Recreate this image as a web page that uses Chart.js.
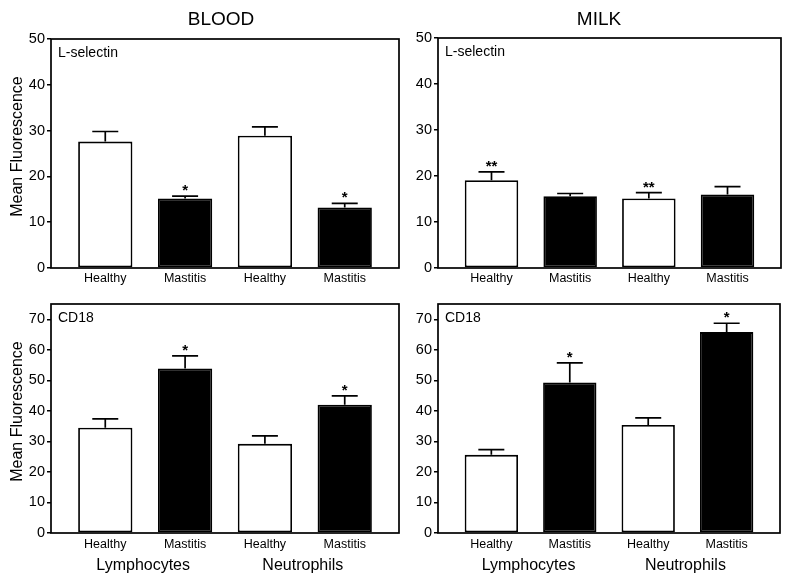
<!DOCTYPE html>
<html>
<head>
<meta charset="utf-8">
<title>L-selectin and CD18 in blood and milk</title>
<script src="https://cdn.jsdelivr.net/npm/chart.js@4.4.1/dist/chart.umd.min.js"></script>
<style>
  html, body { margin: 0; padding: 0; background: #fff; }
  #wrap { position: relative; width: 800px; height: 582px; overflow: hidden; }
  #wrap canvas { position: absolute; }
</style>
</head>
<body>
<div id="wrap">
  <canvas id="bloodL" width="400" height="290" style="left:0;top:0"></canvas>
  <canvas id="milkL" width="400" height="290" style="left:400px;top:0"></canvas>
  <canvas id="bloodCD18" width="400" height="292" style="left:0;top:290px"></canvas>
  <canvas id="milkCD18" width="400" height="292" style="left:400px;top:290px"></canvas>
</div>
<script>
// categories and groups
const categories = ['Healthy', 'Mastitis', 'Healthy', 'Mastitis'];
const cellGroups = ['Lymphocytes', 'Neutrophils'];

// L-selectin, mean fluorescence (+ SEM)
const bloodLSelectin = [27.6, 15.2, 28.9, 13.2];
const bloodLSelectinErr = [2.2, 0.5, 1.9, 0.9];
const bloodLSelectinSig = ['', '*', '', '*'];
const milkLSelectin = [19.1, 15.6, 15.1, 16.0];
const milkLSelectinErr = [1.8, 0.6, 1.3, 1.7];
const milkLSelectinSig = ['**', '', '**', ''];

// CD18, mean fluorescence (+ SEM)
const bloodCD18 = [34.5, 53.9, 29.2, 42.0];
const bloodCD18Err = [2.9, 4.1, 2.6, 2.9];
const bloodCD18Sig = ['', '*', '', '*'];
const milkCD18 = [25.6, 49.3, 35.4, 65.8];
const milkCD18Err = [1.7, 6.4, 2.3, 2.9];
const milkCD18Sig = ['', '*', '', '*'];

const FONT = "'Liberation Sans', Arial, Helvetica, sans-serif";
const barColors = categories.map(c => c === 'Healthy' ? '#ffffff' : '#000000');

function makePanel(id, cfg) {
    const canvas = document.getElementById(id);
    const W = canvas.width, H = canvas.height;
    const [aLeft, aTop, aRight, aBottom] = cfg.area;

    const deco = {
        id: 'deco',
        afterDatasetsDraw(chart) {
            const ctx = chart.ctx;
            const { left, top, right, bottom } = chart.chartArea;
            const xs = chart.scales.x, ys = chart.scales.y;
            ctx.save();
            ctx.strokeStyle = '#000';
            ctx.fillStyle = '#000';
            ctx.lineWidth = 1.7;
            // error bars + significance marks
            cfg.values.forEach((v, i) => {
                const cx = xs.getPixelForValue(i);
                const y0 = ys.getPixelForValue(v);
                const y1 = ys.getPixelForValue(v + cfg.err[i]);
                ctx.beginPath();
                ctx.moveTo(cx, y0);
                ctx.lineTo(cx, y1);
                ctx.moveTo(cx - 13, y1);
                ctx.lineTo(cx + 13, y1);
                ctx.stroke();
                if (cfg.sig[i]) {
                    ctx.font = 'bold 15px ' + FONT;
                    ctx.textAlign = 'center';
                    ctx.textBaseline = 'alphabetic';
                    ctx.fillText(cfg.sig[i], cx, y1 - 1);
                }
            });
            // frame
            ctx.lineWidth = 1.7;
            ctx.strokeRect(left, top, right - left, bottom - top);
            // marker label inside the frame
            ctx.font = '14px ' + FONT;
            ctx.textAlign = 'left';
            ctx.textBaseline = 'middle';
            ctx.fillText(cfg.marker, left + 7, top + 14.5);
            // panel title
            if (cfg.title) {
                ctx.font = '19px ' + FONT;
                ctx.textAlign = 'center';
                ctx.fillText(cfg.title, cfg.titleX, 20);
            }
            // y axis title
            if (cfg.yTitle) {
                ctx.save();
                ctx.translate(18, (top + bottom) / 2 - 7);
                ctx.rotate(-Math.PI / 2);
                ctx.font = '16px ' + FONT;
                ctx.textAlign = 'center';
                ctx.textBaseline = 'middle';
                ctx.fillText(cfg.yTitle, 0, 0);
                ctx.restore();
            }
            // cell type labels
            if (cfg.groups) {
                ctx.font = '16px ' + FONT;
                ctx.textAlign = 'center';
                ctx.textBaseline = 'middle';
                cfg.groups.forEach((g, k) => {
                    ctx.fillText(g, xs.getPixelForValue(2 * k + 0.5) - 2, bottom + 33);
                });
            }
            ctx.restore();
        }
    };

    return new Chart(canvas.getContext('2d'), {
        type: 'bar',
        data: {
            datasets: [{
                data: cfg.values.map((v, i) => ({ x: i, y: v })),
                backgroundColor: barColors,
                borderColor: '#000',
                borderWidth: 1.8,
                borderSkipped: false,
                categoryPercentage: 1,
                barPercentage: 0.68
            }]
        },
        options: {
            responsive: false,
            animation: false,
            events: [],
            layout: {
                padding: { left: 0, top: aTop, right: W - aRight, bottom: 0 }
            },
            scales: {
                x: {
                    type: 'linear',
                    offset: false,
                    min: -0.68,
                    max: 3.68,
                    afterBuildTicks: function(scale) {
                        scale.ticks = categories.map((c, i) => ({ value: i }));
                    },
                    afterFit: function(scale) {
                        scale.height = H - aBottom;
                    },
                    grid: { display: false, drawTicks: false, offset: false },
                    border: { display: false },
                    ticks: {
                        autoSkip: false,
                        maxRotation: 0,
                        minRotation: 0,
                        padding: cfg.groups ? 4 : 3,
                        color: '#000',
                        font: { family: FONT, size: 12.5 },
                        callback: function(value) {
                            return categories[value] ?? '';
                        }
                    }
                },
                y: {
                    min: 0,
                    max: cfg.yMax,
                    afterFit: function(scale) {
                        scale.width = aLeft;
                    },
                    grid: {
                        display: true,
                        drawOnChartArea: false,
                        drawTicks: true,
                        tickLength: 4,
                        color: '#000',
                        lineWidth: 1.5
                    },
                    border: { display: false },
                    ticks: {
                        stepSize: 10,
                        includeBounds: false,
                        padding: 2,
                        color: '#000',
                        font: { family: FONT, size: 14.5 }
                    }
                }
            },
            plugins: {
                legend: { display: false },
                tooltip: { enabled: false }
            }
        },
        plugins: [deco]
    });
}

makePanel('bloodL', {
    area: [51, 39, 399, 268],
    values: bloodLSelectin, err: bloodLSelectinErr, sig: bloodLSelectinSig,
    yMax: 50, marker: 'L-selectin', title: 'BLOOD', titleX: 221,
    yTitle: 'Mean Fluorescence'
});
makePanel('milkL', {
    area: [38, 38, 381, 268],
    values: milkLSelectin, err: milkLSelectinErr, sig: milkLSelectinSig,
    yMax: 50, marker: 'L-selectin', title: 'MILK', titleX: 199
});
makePanel('bloodCD18', {
    area: [51, 14, 399, 243],
    values: bloodCD18, err: bloodCD18Err, sig: bloodCD18Sig,
    yMax: 75, marker: 'CD18', yTitle: 'Mean Fluorescence', groups: cellGroups
});
makePanel('milkCD18', {
    area: [38, 14, 380, 243],
    values: milkCD18, err: milkCD18Err, sig: milkCD18Sig,
    yMax: 75, marker: 'CD18', groups: cellGroups
});
</script>
</body>
</html>
